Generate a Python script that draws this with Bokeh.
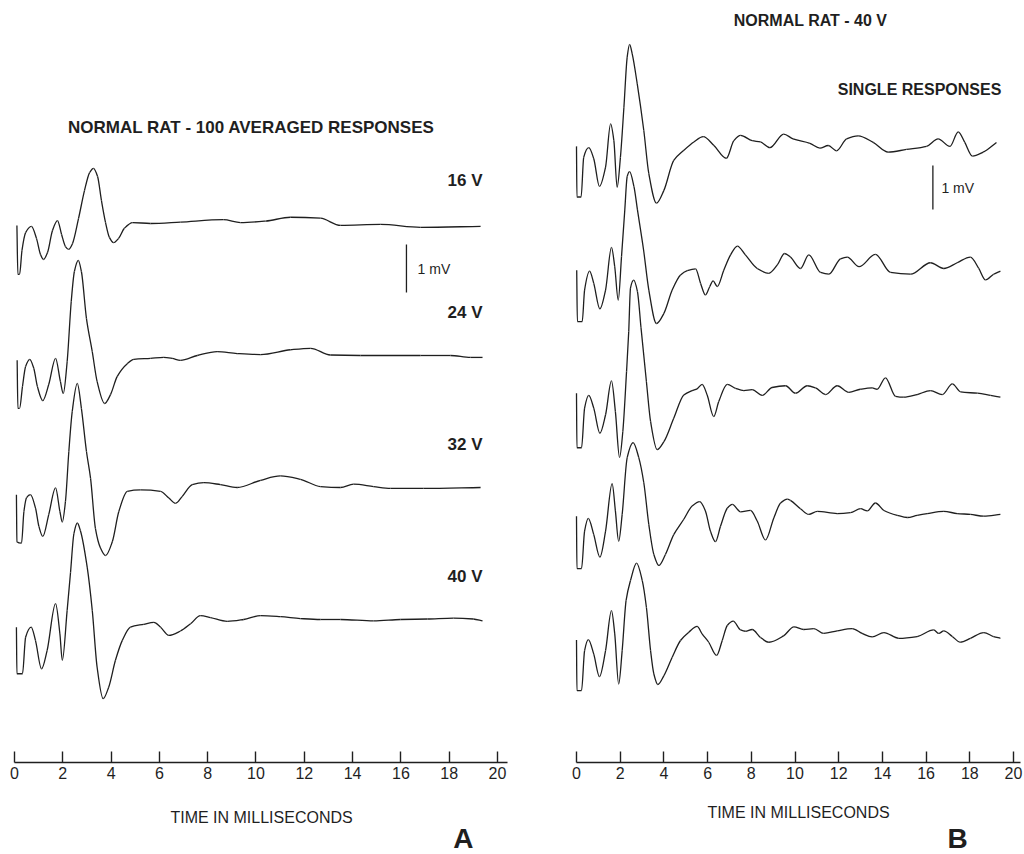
from bokeh.plotting import figure
from bokeh.layouts import row
from bokeh.models import Label, Range1d, FixedTicker
from bokeh.embed import file_html
from bokeh.resources import INLINE

# ---------------- data: panel A (100 averaged responses) ----------------
a_labels = ["16 V", "24 V", "32 V", "40 V"]

a16_t = [0.10, 0.14, 0.21, 0.31, 0.46, 0.70, 0.91, 1.08, 1.20, 1.37, 1.57, 1.78, 1.95, 2.11, 2.24, 2.40,
         2.65, 2.90, 3.11, 3.27, 3.44, 3.60, 3.77, 3.93, 4.10, 4.31, 4.55, 4.89, 5.63, 6.87, 8.65, 9.36,
         10.4, 11.43, 12.67, 13.50, 15.16, 16.81, 19.30]
a16_v = [-0.04, -1.06, -1.06, -0.56, -0.19, -0.06, -0.31, -0.65, -0.75, -0.60, -0.15, 0.06, -0.23, -0.48,
         -0.54, -0.42, 0.10, 0.69, 1.06, 1.15, 0.98, 0.48, 0.02, -0.29, -0.40, -0.31, -0.10, 0.02, 0.00,
         0.03, 0.08, 0.02, 0.05, 0.13, 0.11, -0.04, -0.02, -0.08, -0.06]

a24_t = [0.11, 0.14, 0.21, 0.33, 0.46, 0.63, 0.80, 0.95, 1.17, 1.42, 1.70, 1.90, 2.02, 2.18, 2.35, 2.48,
         2.64, 2.77, 2.98, 3.22, 3.42, 3.73, 3.98, 4.25, 4.67, 4.94, 5.63, 6.18, 6.53, 6.87, 7.57, 8.39,
         9.22, 10.19, 11.43, 12.26, 13.08, 14.33, 16.81, 18.05, 18.88, 19.38]
a24_v = [-0.10, -1.10, -1.10, -0.65, -0.23, -0.08, -0.27, -0.65, -0.94, -0.60, -0.06, -0.54, -0.79, -0.13,
         1.13, 1.75, 1.98, 1.75, 0.77, 0.08, -0.54, -1.00, -0.81, -0.44, -0.17, -0.08, -0.06, -0.04, -0.06,
         -0.10, 0.00, 0.08, 0.04, 0.02, 0.12, 0.15, 0.01, 0.00, 0.00, 0.00, -0.04, -0.04]

a32_t = [0.08, 0.10, 0.29, 0.39, 0.50, 0.66, 0.87, 1.01, 1.17, 1.42, 1.70, 1.88, 1.98, 2.11, 2.25, 2.39,
         2.60, 2.77, 2.98, 3.15, 3.35, 3.56, 3.77, 4.05, 4.32, 4.67, 5.22, 6.05, 6.39, 6.67, 6.94, 7.36,
         7.84, 8.53, 9.22, 10.19, 11.01, 11.84, 12.67, 13.50, 14.04, 14.87, 15.57, 16.94, 19.30]
a32_v = [-0.15, -1.13, -1.16, -0.50, -0.21, -0.15, -0.43, -0.81, -1.02, -0.56, -0.01, -0.50, -0.72, -0.29,
         0.75, 1.58, 2.17, 1.65, 0.75, 0.19, -0.85, -1.26, -1.42, -1.13, -0.50, -0.08, -0.05, -0.08, -0.22,
         -0.33, -0.19, 0.06, 0.10, 0.06, 0.00, 0.15, 0.24, 0.17, 0.02, 0.00, 0.07, 0.02, -0.02, -0.02, 0.00]

a40_t = [0.08, 0.10, 0.33, 0.46, 0.69, 0.87, 1.12, 1.35, 1.70, 1.88, 1.98, 2.18, 2.32, 2.46, 2.60, 2.73,
         3.01, 3.22, 3.42, 3.67, 3.90, 4.18, 4.46, 4.80, 5.35, 5.77, 6.05, 6.39, 6.87, 7.29, 7.70, 8.12,
         8.81, 9.49, 10.19, 11.01, 11.84, 12.67, 13.50, 14.87, 15.98, 17.10, 18.18, 19.00, 19.38]
a40_v = [-0.16, -1.13, -1.13, -0.37, -0.16, -0.44, -1.03, -0.65, 0.33, -0.30, -0.85, 0.19, 0.98, 1.79,
         2.01, 1.85, 1.09, 0.19, -0.99, -1.65, -1.41, -0.85, -0.44, -0.16, -0.10, -0.06, -0.16, -0.33,
         -0.24, -0.09, 0.08, 0.04, -0.04, 0.00, 0.08, 0.06, 0.02, 0.00, 0.00, -0.03, 0.00, 0.01, 0.03,
         0.01, -0.03]

# ---------------- data: panel B (single responses, 40 V) ----------------
b1_t = [0.00, 0.02, 0.21, 0.33, 0.56, 0.79, 1.05, 1.33, 1.56, 1.71, 1.86, 2.01, 2.17, 2.32, 2.43, 2.55,
        2.78, 3.08, 3.31, 3.66, 4.00, 4.45, 4.91, 5.37, 5.80, 6.29, 6.86, 7.20, 7.51, 8.04, 8.42, 8.85,
        9.48, 9.91, 10.68, 11.14, 11.52, 11.90, 12.36, 12.89, 13.58, 14.26, 15.10, 16.02, 16.55, 17.09,
        17.47, 17.77, 18.12, 18.61, 19.22]
b1_v = [-0.02, -1.17, -1.17, -0.27, -0.05, -0.30, -0.93, -0.49, 0.49, 0.11, -0.95, -0.27, 0.87, 2.01,
        2.30, 2.08, 1.40, 0.34, -0.64, -1.31, -1.02, -0.34, -0.11, 0.08, 0.20, 0.00, -0.29, 0.11, 0.23,
        0.11, 0.08, -0.05, 0.26, 0.15, 0.05, -0.06, 0.00, -0.12, 0.15, 0.22, 0.07, -0.15, -0.09, -0.02,
        0.15, -0.02, 0.31, 0.07, -0.24, -0.15, 0.07]

b2_t = [0.01, 0.04, 0.26, 0.37, 0.60, 0.79, 1.07, 1.33, 1.60, 1.75, 1.91, 2.06, 2.21, 2.32, 2.43, 2.63,
        2.79, 3.07, 3.31, 3.66, 4.00, 4.38, 4.76, 5.07, 5.45, 5.68, 5.90, 6.10, 6.25, 6.44, 6.74, 7.05,
        7.36, 7.73, 8.27, 8.80, 9.19, 9.52, 9.79, 10.25, 10.63, 11.17, 11.55, 12.08, 12.39, 12.93, 13.68,
        14.37, 15.29, 16.20, 16.81, 17.42, 18.03, 18.41, 18.72, 19.09, 19.40]
b2_v = [-0.05, -1.22, -1.22, -0.50, -0.07, -0.35, -0.93, -0.50, 0.47, 0.03, -0.73, 0.26, 1.32, 2.08,
        2.19, 1.85, 1.32, 0.41, -0.50, -1.26, -1.03, -0.50, -0.16, -0.06, -0.02, -0.35, -0.61, -0.42,
        -0.29, -0.42, -0.05, 0.30, 0.50, 0.30, -0.01, -0.12, 0.07, 0.33, 0.25, -0.01, 0.30, -0.10, -0.14,
        0.21, 0.25, 0.03, 0.31, -0.10, -0.14, 0.12, -0.01, 0.12, 0.25, -0.01, -0.27, -0.14, -0.07]

b3_t = [0.00, 0.02, 0.23, 0.37, 0.56, 0.79, 1.07, 1.33, 1.60, 1.78, 1.97, 2.12, 2.29, 2.39, 2.47, 2.62,
        2.79, 2.95, 3.20, 3.39, 3.69, 4.00, 4.45, 4.91, 5.29, 5.52, 5.75, 5.98, 6.28, 6.51, 6.90, 7.28,
        7.66, 8.04, 8.50, 8.95, 9.57, 10.02, 10.56, 10.94, 11.40, 11.93, 12.46, 12.99, 13.53, 13.76,
        14.14, 14.60, 14.98, 15.59, 16.20, 16.74, 17.20, 17.58, 18.35, 18.95, 19.40]
b3_v = [-0.06, -1.30, -1.30, -0.40, -0.11, -0.40, -0.97, -0.55, 0.22, -0.48, -1.52, -0.93, 0.43, 1.34,
        2.33, 2.51, 2.25, 1.44, 0.20, -0.70, -1.34, -1.16, -0.63, -0.10, 0.00, 0.04, 0.14, -0.10, -0.59,
        -0.25, 0.14, 0.05, 0.00, 0.02, -0.11, 0.07, 0.11, -0.06, 0.11, 0.06, -0.09, 0.11, -0.04, 0.03,
        0.06, 0.03, 0.29, -0.13, -0.15, -0.09, 0.00, -0.09, 0.15, -0.03, -0.06, -0.11, -0.15]

b4_t = [0.00, 0.02, 0.23, 0.37, 0.54, 0.79, 1.07, 1.33, 1.63, 1.78, 1.93, 2.09, 2.32, 2.59, 2.85, 3.08,
        3.31, 3.54, 3.77, 4.07, 4.45, 4.91, 5.29, 5.64, 5.90, 6.13, 6.36, 6.59, 6.90, 7.13, 7.51, 7.96,
        8.27, 8.65, 9.03, 9.34, 9.65, 9.79, 10.25, 10.63, 11.02, 11.93, 12.54, 13.00, 13.31, 13.68, 14.07,
        14.68, 15.14, 15.59, 16.05, 16.81, 17.42, 18.03, 18.64, 19.40]
b4_v = [-0.07, -1.26, -1.26, -0.41, -0.12, -0.49, -1.00, -0.41, 0.67, 0.05, -0.64, -0.03, 1.26, 1.60,
        1.26, 0.69, -0.26, -0.94, -1.19, -0.94, -0.49, -0.14, 0.16, 0.26, 0.05, -0.41, -0.65, -0.30, 0.11,
        0.20, 0.03, 0.06, -0.18, -0.61, -0.11, 0.23, 0.32, 0.29, 0.10, -0.03, 0.04, -0.01, 0.01, 0.10,
        0.05, 0.23, 0.06, -0.05, -0.10, -0.05, -0.01, 0.04, -0.01, -0.03, -0.07, -0.03]

b5_t = [0.00, 0.02, 0.23, 0.37, 0.54, 0.79, 1.05, 1.33, 1.60, 1.75, 1.93, 2.09, 2.27, 2.47, 2.75, 3.01,
        3.20, 3.39, 3.54, 3.72, 4.00, 4.38, 4.76, 5.14, 5.52, 5.75, 6.05, 6.41, 6.67, 6.90, 7.17, 7.51,
        7.73, 8.04, 8.42, 8.80, 9.49, 9.95, 10.40, 10.86, 11.31, 11.93, 12.62, 13.07, 13.53, 14.07, 14.75,
        15.59, 16.35, 16.58, 16.81, 17.20, 17.57, 18.03, 18.64, 19.09, 19.40]
b5_v = [-0.10, -1.25, -1.25, -0.34, -0.09, -0.42, -0.93, -0.34, 0.57, 0.04, -1.10, -0.34, 0.80, 1.25,
        1.65, 1.25, 0.64, -0.34, -0.87, -1.11, -0.91, -0.49, -0.11, 0.08, 0.21, 0.04, -0.15, -0.45, -0.11,
        0.23, 0.33, 0.13, 0.10, 0.14, -0.04, -0.15, 0.00, 0.20, 0.14, 0.16, 0.05, 0.11, 0.16, 0.05, -0.03,
        0.07, -0.06, -0.02, 0.13, 0.05, 0.11, -0.02, -0.15, -0.06, 0.07, -0.02, -0.06]

time_ticks = [0, 2, 4, 6, 8, 10, 12, 14, 16, 18, 20]
scale_bar_mv = 1.0

# ---------------- styling / layout ----------------
FONT = "Liberation Sans"
INK = "#1f1f1f"
FIG_H = 854


def make_panel(width, xr, yr, axis_y, axis_end):
    p = figure(width=width, height=FIG_H, x_range=Range1d(*xr), y_range=Range1d(*yr),
               output_backend="svg", toolbar_location=None, y_axis_location=None,
               min_border_left=0, min_border_right=0, min_border_top=0, min_border_bottom=0)
    p.grid.visible = False
    p.outline_line_color = None
    p.background_fill_color = "white"
    p.border_fill_color = "white"
    ax = p.xaxis[0]
    ax.fixed_location = axis_y
    ax.ticker = FixedTicker(ticks=time_ticks)
    ax.bounds = (0, axis_end)
    ax.major_tick_in = 11
    ax.major_tick_out = 0
    ax.minor_tick_line_color = None
    ax.axis_line_width = 1.4
    ax.major_tick_line_width = 1.4
    ax.axis_line_color = INK
    ax.major_tick_line_color = INK
    ax.major_label_text_font = FONT
    ax.major_label_text_font_size = "16px"
    ax.major_label_text_color = INK
    ax.major_label_standoff = 5
    return p


def add_text(p, x, y, text, size, bold=False, align="center", baseline="middle"):
    p.add_layout(Label(x=x, y=y, text=text, text_font=FONT, text_font_size=size,
                       text_font_style="bold" if bold else "normal", text_color=INK,
                       text_align=align, text_baseline=baseline))


def smooth_trace(p, t, v, off):
    """Draw a trace through the read points as monotone cubic Bezier pieces."""
    y = [val + off for val in v]
    n = len(t)
    d = [(y[i + 1] - y[i]) / (t[i + 1] - t[i]) for i in range(n - 1)]
    m = [0.0] * n
    m[0], m[-1] = d[0], d[-1]
    for i in range(1, n - 1):
        if d[i - 1] * d[i] <= 0:
            m[i] = 0.0
        else:
            h0, h1 = t[i] - t[i - 1], t[i + 1] - t[i]
            w1, w2 = 2 * h1 + h0, h1 + 2 * h0
            m[i] = (w1 + w2) / (w1 / d[i - 1] + w2 / d[i])
    x0, y0, x1, y1, cx0, cy0, cx1, cy1 = ([] for _ in range(8))
    for i in range(n - 1):
        h = t[i + 1] - t[i]
        x0.append(t[i]); y0.append(y[i]); x1.append(t[i + 1]); y1.append(y[i + 1])
        cx0.append(t[i] + h / 3); cy0.append(y[i] + m[i] * h / 3)
        cx1.append(t[i + 1] - h / 3); cy1.append(y[i + 1] - m[i + 1] * h / 3)
    p.bezier(x0=x0, y0=y0, x1=x1, y1=y1, cx0=cx0, cy0=cy0, cx1=cx1, cy1=cy1,
             line_color=INK, line_width=1.3)


# ---- Panel A ----
A_STEP = 2.75  # mV between stacked traces
pA = make_panel(548, (-0.5797, 22.112), (-13.146, 4.6458), -11.229, 20.4)
a_series = [(a16_t, a16_v), (a24_t, a24_v), (a32_t, a32_v), (a40_t, a40_v)]
for k, ((t, v), lab) in enumerate(zip(a_series, a_labels)):
    off = -k * A_STEP
    smooth_trace(pA, t, v, off)
    add_text(pA, 19.38, off + 0.9, lab, "17px", bold=True, align="right")

pA.segment(x0=[16.23], y0=[-0.4375], x1=[16.23], y1=[-0.4375 - scale_bar_mv],
           line_color=INK, line_width=1.3)
add_text(pA, 16.69, -0.958, "1 mV", "14px", align="left")
add_text(pA, 9.81, 2.0, "NORMAL RAT - 100 AVERAGED RESPONSES", "17px", bold=True)
add_text(pA, 10.23, -12.375, "TIME IN MILLISECONDS", "16px")
add_text(pA, 18.59, -13.14, "A", "28px", bold=True, baseline="bottom")

# ---- Panel B ----
B_STEP = 2.785
pB = make_panel(476, (-1.2815, 20.503), (-16.114, 3.2955), -14.0227, 20.3)
b_series = [(b1_t, b1_v), (b2_t, b2_v), (b3_t, b3_v), (b4_t, b4_v), (b5_t, b5_v)]
for k, (t, v) in enumerate(b_series):
    smooth_trace(pB, t, v, -k * B_STEP)

pB.segment(x0=[16.31], y0=[-0.4545], x1=[16.31], y1=[-0.4545 - scale_bar_mv],
           line_color=INK, line_width=1.3)
add_text(pB, 16.70, -0.955, "1 mV", "14px", align="left")
add_text(pB, 10.71, 2.84, "NORMAL RAT - 40 V", "16px", bold=True)
add_text(pB, 15.70, 1.27, "SINGLE RESPONSES", "16px", bold=True)
add_text(pB, 10.16, -15.16, "TIME IN MILLISECONDS", "16px")
add_text(pB, 17.44, -16.11, "B", "28px", bold=True, baseline="bottom")

layout = row(pA, pB)
open("out.html", "w").write(file_html(layout, INLINE))
